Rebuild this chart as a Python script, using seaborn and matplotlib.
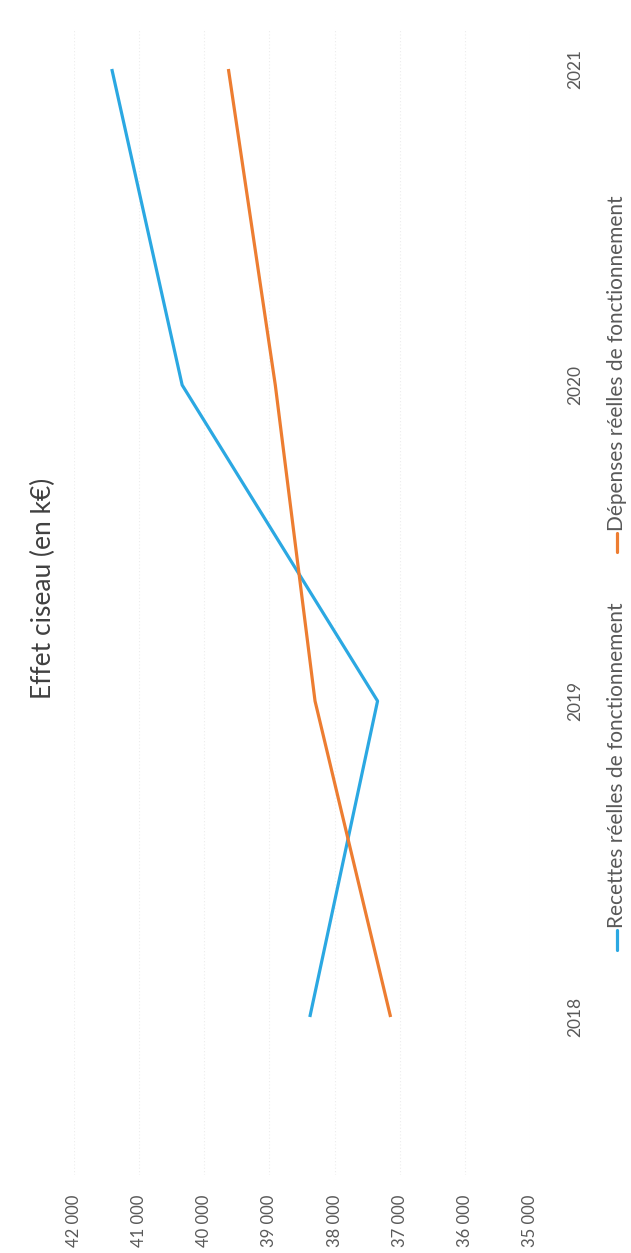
import matplotlib
matplotlib.use("Agg")
import matplotlib.pyplot as plt
from matplotlib.lines import Line2D
import seaborn as sns
import pandas as pd

years = ["2018", "2019", "2020", "2021"]
recettes = [38380, 37340, 40340, 41420]
depenses = [37140, 38300, 38910, 39630]
series_names = ["Recettes réelles de fonctionnement", "Dépenses réelles de fonctionnement"]
value_ticks = [35000, 36000, 37000, 38000, 39000, 40000, 41000, 42000]
title = "Effet ciseau (en k€)"

colors = ["#2BA8E2", "#ED7D31"]

sns.set_theme(style="white")
plt.rcParams["font.family"] = ["Lato", "DejaVu Sans"]

rows = []
for name, vals in zip(series_names, [recettes, depenses]):
    for i, (y, v) in enumerate(zip(years, vals)):
        rows.append({"pos": i, "year": y, "value": v, "series": name})
df = pd.DataFrame(rows)

W, H = 631, 1253
fig = plt.figure(figsize=(W / 100, H / 100), dpi=100)
left_px, right_px = 74, 530
top_px, bottom_px = 30, 1175
ax = fig.add_axes([left_px / W, 1 - bottom_px / H, (right_px - left_px) / W, (bottom_px - top_px) / H])

sns.lineplot(data=df, x="value", y="pos", hue="series", palette=colors,
             orient="y", sort=True, linewidth=2.3, legend=False, ax=ax,
             estimator=None)
for ln in ax.lines:
    ln.set_clip_on(False)
    ln.set_solid_capstyle("butt")

ax.set_xlim(42000, 35000)
cat_px = 316.0
ax.set_ylim(-(bottom_px - 1017) / cat_px, 3 + (69 - top_px) / cat_px)

ax.set_xticks(value_ticks)
ax.set_xticklabels([f"{v:,}".replace(",", " ") for v in value_ticks],
                   rotation=90, fontsize=12, color="#595959")
ax.set_yticks(range(len(years)))
ax.set_yticklabels(years, rotation=90, fontsize=12.5, color="#595959", va="center")
ax.yaxis.tick_right()
ax.tick_params(axis="x", length=0, pad=14)
ax.tick_params(axis="y", length=0, pad=27)
ax.set_xlabel("")
ax.set_ylabel("")
ax.grid(axis="x", color="#EDEDED", linewidth=0.8, linestyle=(0, (1, 2)))
ax.grid(axis="y", visible=False)
for s in ax.spines.values():
    s.set_visible(False)

fig.text(43 / W, 1 - 588 / H, title, rotation=90, ha="center", va="center",
         fontsize=19, color="#404040")

# legend (rotated)
leg_x = 617
entries = [(series_names[0], colors[0], 950, 930), (series_names[1], colors[1], 552, 533)]
for name, col, y0, y1 in entries:
    fig.add_artist(Line2D([leg_x / W, leg_x / W], [1 - y0 / H, 1 - y1 / H],
                          color=col, linewidth=2.3, transform=fig.transFigure))
    fig.text(leg_x / W, 1 - (y1 - 2) / H, name, rotation=90, ha="center", va="bottom",
             fontsize=15, color="#595959")

fig.savefig("out.png", dpi=100, facecolor="white")
